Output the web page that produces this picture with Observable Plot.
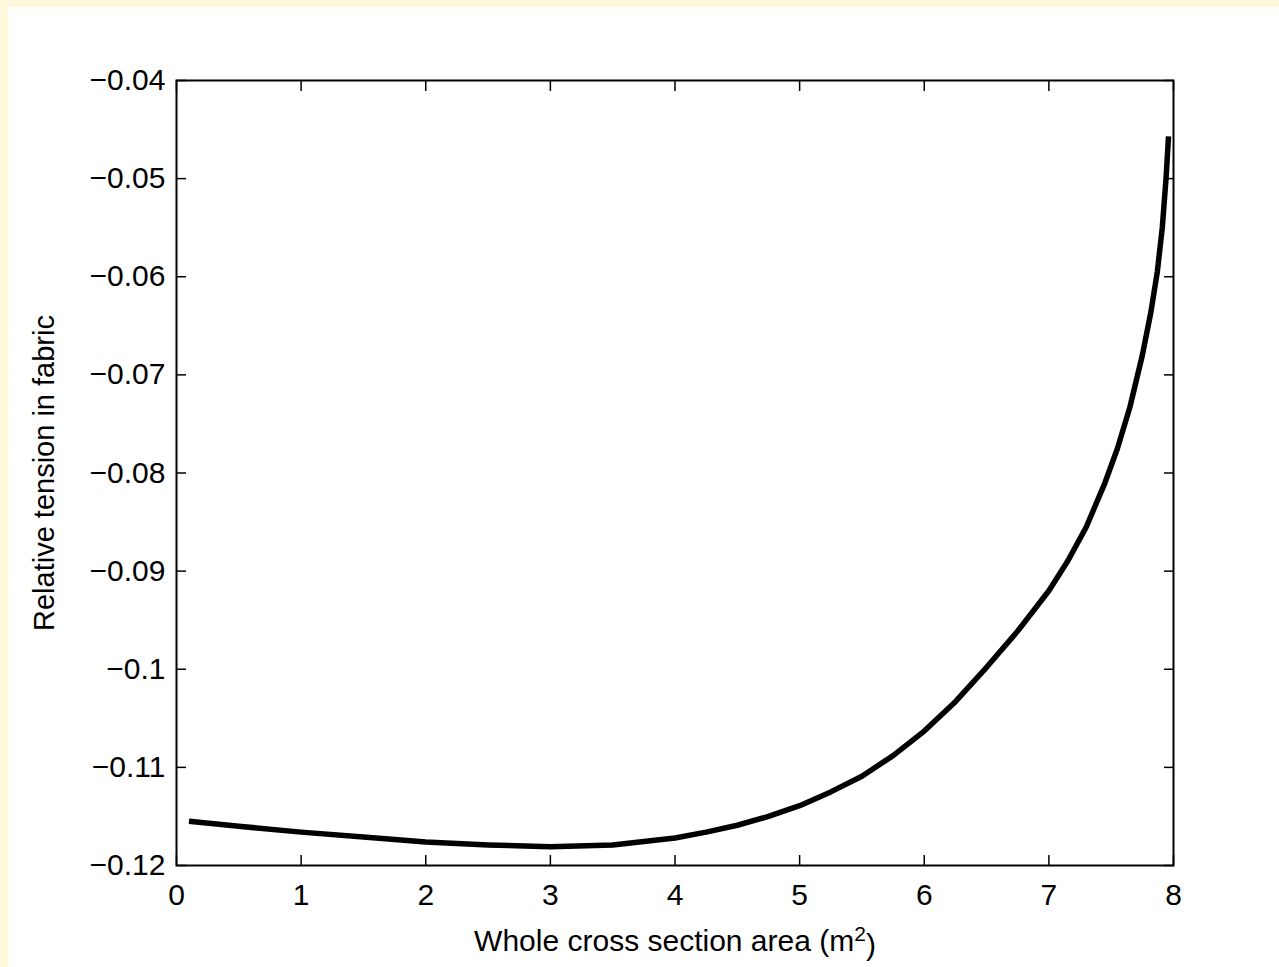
<!DOCTYPE html>
<html>
<head>
<meta charset="utf-8">
<script src="https://cdn.jsdelivr.net/npm/d3@7"></script>
<script src="https://cdn.jsdelivr.net/npm/@observablehq/plot@0.6"></script>
<style>
  html, body { margin: 0; padding: 0; background: #fdf7dc; width: 1279px; height: 967px; overflow: hidden; }
  #chart { position: absolute; left: 8px; top: 7px; width: 1271px; height: 960px; background: #ffffff; }
  #chart svg { display: block; }
</style>
</head>
<body>
<div id="chart"></div>
<script>
// Data
const area = [0.1, 0.5, 1.0, 1.5, 2.0, 2.5, 3.0, 3.5, 4.0, 4.25, 4.5, 4.75, 5.0, 5.25, 5.5, 5.75, 6.0, 6.25, 6.5, 6.75, 7.0, 7.15, 7.3, 7.45, 7.55, 7.65, 7.75, 7.82, 7.87, 7.91, 7.94, 7.96];
const tension = [-0.1155, -0.1160, -0.1166, -0.1171, -0.1176, -0.1179, -0.1181, -0.1179, -0.1172, -0.1166, -0.1159, -0.1150, -0.1139, -0.1125, -0.1109, -0.1088, -0.1063, -0.1033, -0.0998, -0.0961, -0.0920, -0.0890, -0.0855, -0.0810, -0.0775, -0.0733, -0.0680, -0.0635, -0.0595, -0.0550, -0.0500, -0.0457];
const xTicks = [0, 1, 2, 3, 4, 5, 6, 7, 8];
const yTicks = [-0.12, -0.11, -0.1, -0.09, -0.08, -0.07, -0.06, -0.05, -0.04];
const xLabel = "Whole cross section area (m²)";
const yLabel = "Relative tension in fabric";

const data = area.map((a, i) => ({a, t: tension[i]}));
const fmt = d3.format("~g");

const chart = Plot.plot({
  width: 1271,
  height: 960,
  marginLeft: 168,
  marginRight: 106,
  marginTop: 73,
  marginBottom: 102,
  x: {domain: [0, 8]},
  y: {domain: [-0.12, -0.04]},
  style: {fontFamily: "'Liberation Sans', Arial, Helvetica, sans-serif", fontSize: "30px", background: "white", color: "black", overflow: "visible"},
  marks: [
    Plot.line(data, {x: "a", y: "t", stroke: "black", strokeWidth: 5.5, strokeLinejoin: "round", strokeLinecap: "butt", curve: "linear"}),
    Plot.axisX({ticks: xTicks, anchor: "bottom", tickSize: -10, tickPadding: 28, tickFormat: fmt, label: null, strokeWidth: 1.5, fontSize: 30}),
    Plot.axisX({ticks: xTicks, anchor: "top", tickSize: -10, tickFormat: () => "", label: null, strokeWidth: 1.5}),
    Plot.axisY({ticks: yTicks, anchor: "left", tickSize: -10, tickPadding: 21, tickFormat: fmt, label: null, strokeWidth: 1.5, fontSize: 30}),
    Plot.axisY({ticks: yTicks, anchor: "right", tickSize: -10, tickFormat: () => "", label: null, strokeWidth: 1.5}),
    Plot.frame({stroke: "black", strokeWidth: 2}),
    Plot.text([xLabel], {frameAnchor: "bottom", dy: 85, lineAnchor: "bottom", textAnchor: "middle", fontSize: 30, fill: "black"}),
    Plot.text([yLabel], {frameAnchor: "left", dx: -132, rotate: -90, lineAnchor: "middle", textAnchor: "middle", fontSize: 29, fill: "black"})
  ]
});
document.getElementById("chart").appendChild(chart);

// Render the superscript as a raised, smaller "2"
d3.select(chart).selectAll("text").each(function() {
  const el = d3.select(this);
  const s = el.text();
  if (s === xLabel) {
    const [before, after] = s.split("²");
    el.text(null);
    el.append("tspan").text(before);
    el.append("tspan").attr("dy", "-0.45em").attr("font-size", "21px").text("2");
    el.append("tspan").attr("dy", "0.45em").text(after);
  }
});
</script>
</body>
</html>
